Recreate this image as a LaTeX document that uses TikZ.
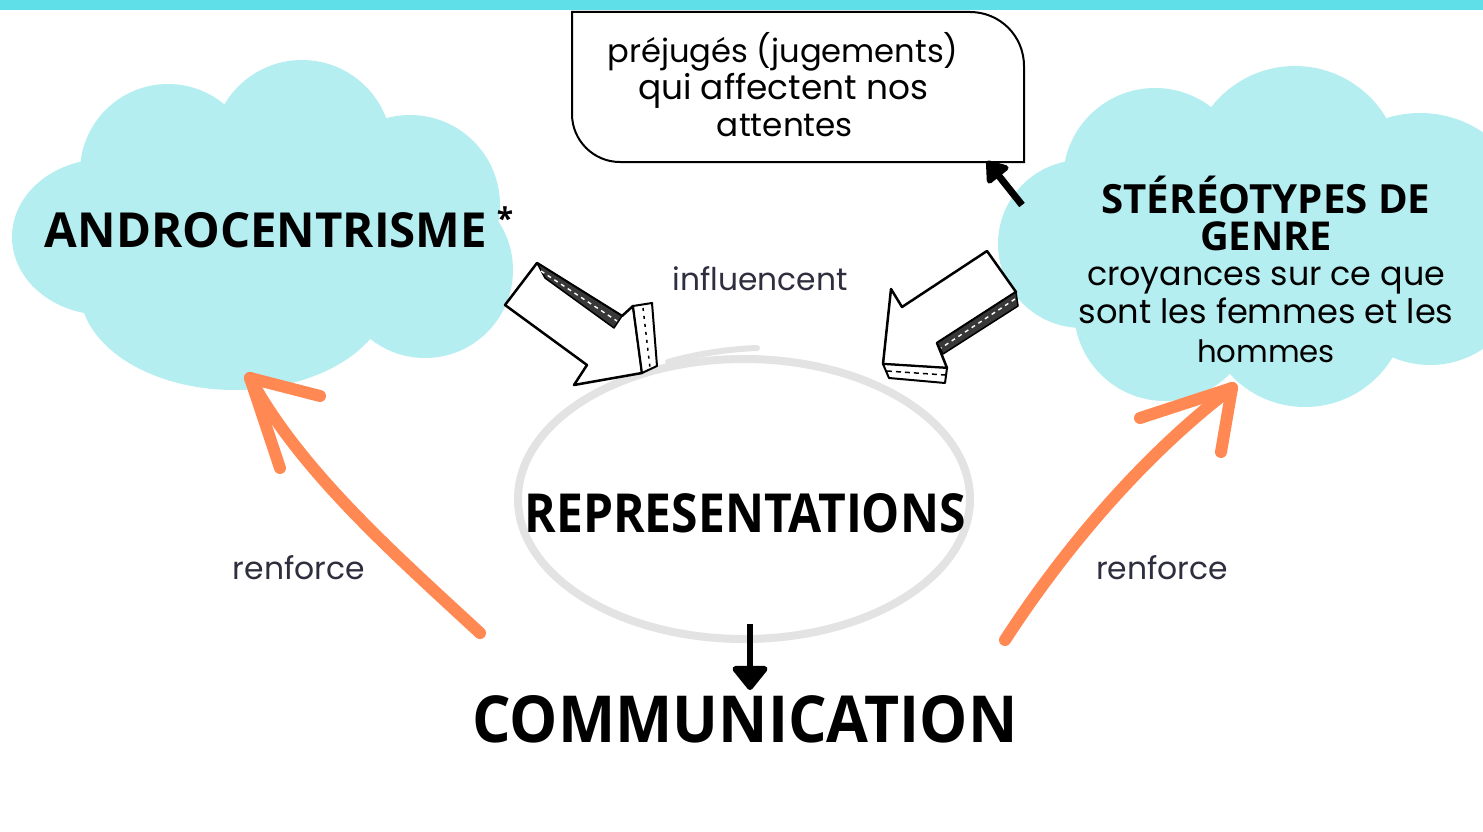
\documentclass[tikz,border=0pt]{standalone}
\usepackage{fontspec}
\usepackage{graphicx}
\usetikzlibrary{arrows.meta,shapes.geometric}
\newfontfamily\osans{Open Sans}
\newfontfamily\pop{Poppins}
\definecolor{cloudc}{HTML}{B5EEF0}
\definecolor{barc}{HTML}{5FE0E8}
\definecolor{orangec}{HTML}{FF8853}
\definecolor{ringc}{HTML}{E3E3E3}
\definecolor{labc}{HTML}{2E2E3E}
\newcommand{\fitw}[2]{\resizebox{#1pt}{!}{#2}}
\newcommand{\fitwh}[3]{\resizebox{#1pt}{#2pt}{#3}}
\begin{document}
\begin{tikzpicture}[x=1pt,y=-1pt,
  cloudfill/.style={fill=cloudc},
  lab/.style={anchor=base, inner sep=0pt, text=black},
  graylab/.style={anchor=base, inner sep=0pt, text=labc},
  blk/.style={draw=black, line width=2.5pt, fill=white, line join=round},
  shade3d/.style={draw=black, line width=1.5pt, fill=black!78, line join=round},
  hatchline/.style={draw=white, line width=1.4pt, dash pattern=on 4pt off 4pt},
  orarrow/.style={draw=orangec, line width=12pt, line cap=round, line join=round},
  blackarrow/.style={draw=black, line width=6pt, -{Triangle[length=26pt,width=40pt,round]}},
]
\useasboundingbox (0,0) rectangle (1483,832);
\clip (0,0) rectangle (1483,832);
\fill[white] (0,0) rectangle (1483,832);
\fill[barc] (0,0) rectangle (1483,10);

% left cloud
\fill[cloudfill] (105,237) ellipse [x radius=93pt, y radius=78pt];
\fill[cloudfill] (168,172) circle [radius=88pt];
\fill[cloudfill] (302,150) circle [radius=90pt];
\fill[cloudfill] (410,205) circle [radius=90pt];
\fill[cloudfill] (425,270) circle [radius=88pt];
\fill[cloudfill] (235,290) ellipse [x radius=155pt, y radius=100pt];
\fill[cloudfill] (280,240) ellipse [x radius=180pt, y radius=110pt];

% right cloud
\fill[cloudfill] (1082,244) circle [radius=84pt];
\fill[cloudfill] (1155,180) circle [radius=92pt];
\fill[cloudfill] (1295,172) circle [radius=106pt];
\fill[cloudfill] (1420,225) circle [radius=112pt];
\fill[cloudfill] (1430,270) circle [radius=95pt];
\fill[cloudfill] (1305,305) circle [radius=102pt];
\fill[cloudfill] (1165,310) circle [radius=91pt];
\fill[cloudfill] (1260,250) ellipse [x radius=180pt, y radius=110pt];

% callout box
\draw[line width=2pt, fill=white] (572,12) -- (970,12) .. controls (1000,12) and (1024,36) .. (1024,66) -- (1024,162) -- (620,162) .. controls (593.5,162) and (572,140.5) .. (572,114) -- cycle;
\node[lab] (pj1) at (783,63) {\fitw{351}{\pop préjugés (jugements)}};
\node[lab] (pj2) at (783,100) {\fitw{290}{\pop qui affectent nos}};
\node[lab] (pj3) at (785,137) {\fitw{136}{\pop attentes}};

% representation ring
\node[ellipse, draw=ringc, line width=8pt, minimum width=452pt, minimum height=280pt] (ring) at (744,499) {};
\draw[ringc, line width=6pt, line cap=round] (668,362) .. controls (700,353) and (730,349) .. (757,348);

% labels
\node[lab] (andro) at (266,247) {\fitwh{442}{35}{\osans\bfseries ANDROCENTRISME}};
\node[lab] (ast) at (505,229) {\osans\bfseries\fontsize{30}{30}\selectfont *};
\node[lab] (repr) at (745,532) {\fitwh{441}{39}{\osans\bfseries REPRESENTATIONS}};
\node[lab] (comm) at (745,742) {\fitwh{545}{47}{\osans\bfseries COMMUNICATION}};
\node[lab] (st1) at (1266,213) {\fitw{329}{\osans\bfseries STÉRÉOTYPES DE}};
\node[lab] (st2) at (1266,250) {\fitw{132}{\osans\bfseries GENRE}};
\node[lab] (cr1) at (1266,285) {\fitw{358}{\pop croyances sur ce que}};
\node[lab] (cr2) at (1266,323) {\fitw{375}{\pop sont les femmes et les}};
\node[lab] (cr3) at (1266,362) {\fitw{138}{\pop hommes}};
\node[graylab] (infl) at (760,290) {\fitw{175}{\pop influencent}};
\node[graylab] (renL) at (299,579) {\fitw{132}{\pop renforce}};
\node[graylab] (renR) at (1162,579) {\fitw{132}{\pop renforce}};

% left block arrow
\draw[blk] (537,263) -- (622,316) -- (633,306) -- (642,373) -- (574,385) -- (587,365) -- (505,305) -- cycle;
\draw[shade3d] (537,263) -- (622,316) -- (614,328) -- (545,278) -- cycle;
\draw[hatchline] (541,271) -- (617,321);
\draw[blk, line width=2pt] (633,306) -- (652,303) -- (657,366) -- (642,373) -- cycle;
\draw[black, line width=1.5pt, dash pattern=on 3pt off 5pt] (643,308) -- (650,368);

% right block arrow
\draw[blk] (987,251) -- (1016,292) -- (937,343) -- (947,368) -- (883,364) -- (891,289) -- (902,307) -- cycle;
\draw[shade3d] (1016,292) -- (1018,306) -- (943,354) -- (937,343) -- cycle;
\draw[hatchline] (1015,299) -- (941,348);
\draw[blk, line width=2pt] (883,364) -- (947,368) -- (945,383) -- (889,378) -- cycle;
\draw[black, line width=1.5pt, dash pattern=on 5pt off 4pt] (887,371) -- (945,375);

% black arrows
\coordinate (cbTail) at (1022,205);
\coordinate (cbTip) at (987,161);
\draw[blackarrow, line width=7pt, -{Triangle[length=22pt,width=30pt,round]}] (cbTail) -- (cbTip);
\coordinate (dnTail) at (750,624);
\coordinate (dnTip) at (750,690);
\draw[blackarrow] (dnTail) -- (dnTip);

% orange arrows
\coordinate (oLtail) at (480,633);
\coordinate (oLtip) at (250,378);
\draw[orarrow] (oLtail) .. controls (390,550) and (300,470) .. (oLtip);
\draw[orarrow] (oLtip) -- (320,396);
\draw[orarrow] (oLtip) -- (280,468);
\coordinate (oRtail) at (1005,640);
\coordinate (oRtip) at (1232,388);
\draw[orarrow] (oRtail) .. controls (1070,540) and (1150,450) .. (oRtip);
\draw[orarrow] (oRtip) -- (1140,418);
\draw[orarrow] (oRtip) -- (1221,452);
\end{tikzpicture}
\end{document}
